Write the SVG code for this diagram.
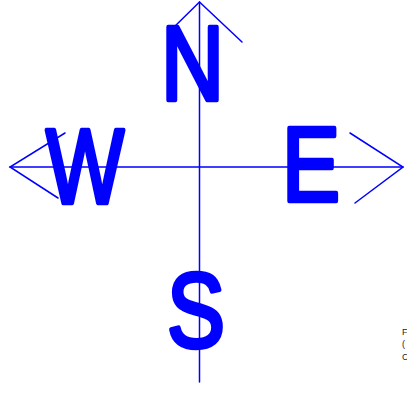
<svg xmlns="http://www.w3.org/2000/svg" width="407" height="393" viewBox="0 0 407 393">
<style>
.ln{stroke:#0000ff;stroke-width:1.5;fill:none;stroke-linecap:round}
.lt{font-family:"Liberation Sans",Arial,sans-serif;font-size:105px;fill:#0000ff;stroke:#0000ff;stroke-width:4.5;stroke-linejoin:round}
.sm{font-family:"Liberation Sans",Arial,sans-serif;font-size:9px;fill:#222}
</style>
<rect width="407" height="393" fill="#fff"/>
<g id="connectors">
<line class="ln" x1="199.5" y1="2" x2="199.5" y2="382"/>
<line class="ln" x1="10" y1="167" x2="403" y2="167"/>
<polyline class="ln" points="170,31 199.5,2 242,42"/>
<polyline class="ln" points="65,133 10,167 58,198"/>
<polyline class="ln" points="350,133 403,167 355,203"/>
</g>
<g id="N"><text class="lt" x="161" y="100" textLength="63" lengthAdjust="spacingAndGlyphs">N</text></g>
<g id="W"><text class="lt" x="46" y="203" textLength="78" lengthAdjust="spacingAndGlyphs">W</text></g>
<g id="E"><text class="lt" x="282" y="201" textLength="58" lengthAdjust="spacingAndGlyphs">E</text></g>
<g id="S"><text class="lt" x="167" y="347" textLength="58" lengthAdjust="spacingAndGlyphs">S</text></g>
<g id="legend">
<text class="sm" x="402" y="335">F</text>
<text class="sm" x="402" y="347">(</text>
<text class="sm" x="402" y="360">C</text>
</g>
</svg>
